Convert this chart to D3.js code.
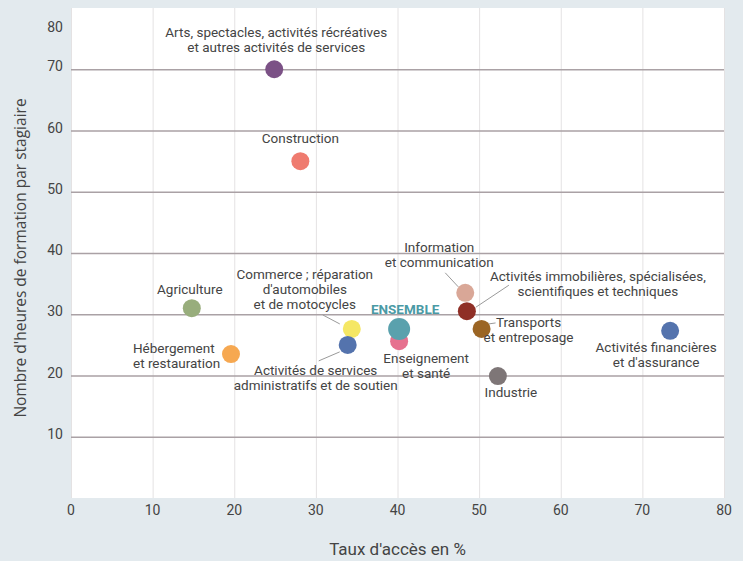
<!DOCTYPE html>
<html>
<head>
<meta charset="utf-8">
<script src="https://cdn.jsdelivr.net/npm/d3@7"></script>
<style>
  body { margin: 0; background: #e3eaee; }
  #chart text { fill: #444; }
</style>
</head>
<body>
<div id="chart"></div>
<script>
// secteurs d'activité
let sectors = [
    "Arts", "Construction", "Agriculture", "Hebergement", "Information",
    "Immobilier", "Transports", "Industrie", "Financier", "Commerce",
    "Admin", "Enseignement", "Ensemble"
];
// taux d'accès en %
let accessRate = [24.9, 28.1, 14.8, 19.6, 48.3, 48.5, 50.3, 52.3, 73.4, 34.4, 33.9, 40.2, 40.2];
// nombre d'heures par stagiaire
let hours = [70.0, 55.0, 31.0, 23.5, 33.5, 30.5, 27.6, 19.9, 27.3, 27.6, 25.0, 25.6, 27.6];
let labels = [
    ["Arts, spectacles, activités récréatives", "et autres activités de services"],
    ["Construction"],
    ["Agriculture"],
    ["Hébergement", "et restauration"],
    ["Information", "et communication"],
    ["Activités immobilières, spécialisées,", "scientifiques et techniques"],
    ["Transports", "et entreposage"],
    ["Industrie"],
    ["Activités financières", "et d'assurance"],
    ["Commerce ; réparation", "d'automobiles", "et de motocycles"],
    ["Activités de services", "administratifs et de soutien"],
    ["Enseignement", "et santé"],
    ["ENSEMBLE"]
];
let xTicks = [0, 10, 20, 30, 40, 50, 60, 70, 80];
let yTicks = [10, 20, 30, 40, 50, 60, 70, 80];

let colors = ["#7b5186", "#ef7b6f", "#98ad7c", "#f6a851", "#d9a797", "#8f2f26",
    "#9b6524", "#7e7677", "#5473ad", "#f5e764", "#5473ad", "#e6718f", "#5aa1ad"];

// placement des étiquettes (décalage par rapport au point)
let labelPos = [
    { dx: 2, dy: -36, anchor: "middle" },
    { dx: 0, dy: -22, anchor: "middle" },
    { dx: -2, dy: -18, anchor: "middle" },
    { dx: -98, dy: -5, anchor: "start" },
    { dx: -26, dy: -45, anchor: "middle", line: [-7, -6, -20, -20] },
    { dx: 131, dy: -34, anchor: "middle", line: [9, -4, 42, -26] },
    { dx: 47, dy: -6, anchor: "middle", line: [7, -5, 14, -6] },
    { dx: 13, dy: 17, anchor: "middle" },
    { dx: -14, dy: 17, anchor: "middle" },
    { dx: -47, dy: -54, anchor: "middle", line: [-12, -5, -29, -14] },
    { dx: -32, dy: 26, anchor: "middle", line: [-8, 7, -29, 16] },
    { dx: 27, dy: 18, anchor: "middle" },
    { dx: 6, dy: -19, anchor: "middle" }
];

let width = 743, height = 561;
let plot = { left: 71, right: 724, top: 8, bottom: 498 };

let svg = d3.select("#chart").append("svg")
    .attr("width", width)
    .attr("height", height)
    .style("font-family", "'Liberation Sans Narrow', Roboto, sans-serif");

svg.append("rect")
    .attr("x", plot.left).attr("y", plot.top)
    .attr("width", plot.right - plot.left)
    .attr("height", plot.bottom - plot.top)
    .attr("fill", "#fff");

let x = d3.scaleLinear().domain([0, 80]).range([plot.left, plot.right]);
let y = d3.scaleLinear().domain([0, 80]).range([plot.bottom, plot.top]);

// grille verticale
svg.append("g")
    .attr("transform", "translate(0," + plot.bottom + ")")
    .call(d3.axisBottom(x).tickValues(xTicks).tickSize(-(plot.bottom - plot.top)).tickFormat(""))
    .call(g => g.select(".domain").remove())
    .call(g => g.selectAll("line").attr("stroke", "#e4e2e3"));

// grille horizontale
svg.append("g")
    .attr("transform", "translate(" + plot.left + ",0)")
    .call(d3.axisLeft(y).tickValues(yTicks.filter(d => d < 80)).tickSize(-(plot.right - plot.left)).tickFormat(""))
    .call(g => g.select(".domain").remove())
    .call(g => g.selectAll("line").attr("stroke", "#aaa1a5").attr("stroke-width", 1.3));

// étiquettes des axes
svg.append("g").selectAll("text")
    .data(xTicks)
    .enter().append("text")
    .attr("x", d => x(d))
    .attr("y", 515)
    .attr("text-anchor", "middle")
    .style("font-size", "14px")
    .text(d => d);

svg.append("g").selectAll("text")
    .data(yTicks)
    .enter().append("text")
    .attr("x", 63)
    .attr("y", d => Math.max(y(d) + 2, 32))
    .attr("text-anchor", "end")
    .style("font-size", "14px")
    .text(d => d);

svg.append("text")
    .attr("x", (plot.left + plot.right) / 2)
    .attr("y", 555)
    .attr("text-anchor", "middle")
    .style("font-size", "17px")
    .text("Taux d'accès en %");

svg.append("text")
    .attr("transform", "translate(26," + 258 + ") rotate(-90)")
    .attr("text-anchor", "middle")
    .style("font-family", "'Open Sans', sans-serif")
    .style("font-size", "15.5px")
    .text("Nombre d'heures de formation par stagiaire");

// traits de rappel
let points = sectors.map((s, i) => ({ px: x(accessRate[i]), py: y(hours[i]), i: i }));

svg.append("g").selectAll("line")
    .data(points.filter(p => labelPos[p.i].line))
    .enter().append("line")
    .attr("x1", p => p.px + labelPos[p.i].line[0])
    .attr("y1", p => p.py + labelPos[p.i].line[1])
    .attr("x2", p => p.px + labelPos[p.i].line[2])
    .attr("y2", p => p.py + labelPos[p.i].line[3])
    .attr("stroke", "#9a9a9a")
    .attr("stroke-width", 1);

// points
svg.append("g").selectAll("circle")
    .data(points)
    .enter().append("circle")
    .attr("cx", p => p.px)
    .attr("cy", p => p.py)
    .attr("r", p => sectors[p.i] === "Ensemble" ? 11 : 9)
    .attr("fill", p => colors[p.i]);

// étiquettes des points
let lab = svg.append("g").selectAll("text")
    .data(points)
    .enter().append("text")
    .attr("text-anchor", p => labelPos[p.i].anchor)
    .attr("dominant-baseline", "middle")
    .style("font-size", "13.5px")
    .style("font-weight", p => sectors[p.i] === "Ensemble" ? "bold" : "normal")
    .style("fill", p => sectors[p.i] === "Ensemble" ? "#4a9aa5" : "#444");

lab.selectAll("tspan")
    .data(p => labels[p.i].map((t, k) => ({ t: t, k: k, p: p })))
    .enter().append("tspan")
    .attr("x", d => d.p.px + labelPos[d.p.i].dx)
    .attr("y", d => d.p.py + labelPos[d.p.i].dy + d.k * 15)
    .text(d => d.t);
</script>
</body>
</html>
